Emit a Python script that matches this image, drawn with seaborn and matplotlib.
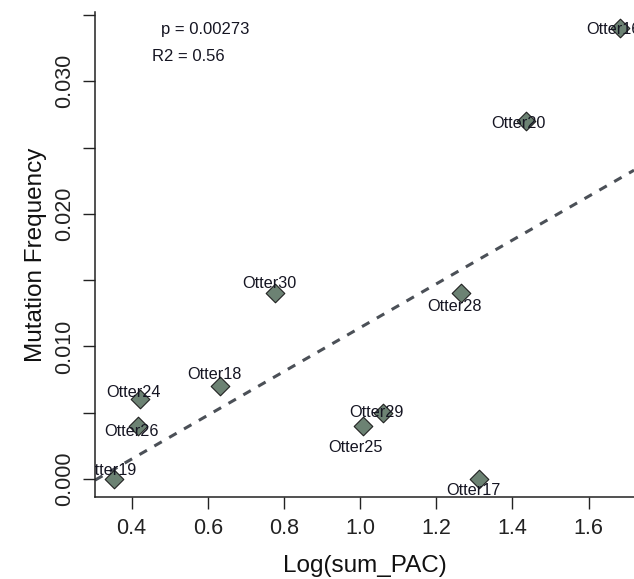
import numpy as np
import pandas as pd
import matplotlib
matplotlib.use("Agg")
import matplotlib.pyplot as plt
import matplotlib.ticker as mticker
import seaborn as sns

# ── Data ──
names    = ["Otter19", "Otter24", "Otter26", "Otter18", "Otter30", "Otter25",
            "Otter29", "Otter28", "Otter17", "Otter20", "Otter16"]
log_pac  = [0.355, 0.422, 0.416, 0.632, 0.777, 1.007,
            1.059, 1.264, 1.313, 1.435, 1.682]
mut_freq = [0.000, 0.006, 0.004, 0.007, 0.014, 0.004,
            0.005, 0.014, 0.000, 0.027, 0.034]
p_text  = "p = 0.00273"
r2_text = "R2 = 0.56"

x_ticks = [0.4, 0.6, 0.8, 1.0, 1.2, 1.4, 1.6]
y_ticks = [0.000, 0.005, 0.010, 0.015, 0.020, 0.025, 0.030, 0.035]

# label offsets from the point, in pixels (dx right, dy down)
label_offset = {
    "Otter19": (-5, -8),  "Otter24": (-6, -7),  "Otter26": (-6, 6),
    "Otter18": (-6, -12), "Otter30": (-6, -10), "Otter25": (-7, 22),
    "Otter29": (-6, 0),   "Otter28": (-6, 13),  "Otter17": (-6, 12),
    "Otter20": (-7, 2),   "Otter16": (-6, 1),
}

df = pd.DataFrame({"name": names, "log_pac": log_pac, "mut_freq": mut_freq})

# ── Style ──
sns.set_style("ticks")
plt.rcParams["font.family"] = ["Liberation Sans", "DejaVu Sans"]

POINT = "#6c8273"
LINE  = "#4b5057"
TEXT  = "#151522"

fig = plt.figure(figsize=(6.34, 5.79), dpi=100)
ax = fig.add_axes([95 / 634, 82 / 579, 539 / 634, 485 / 579])

XLIM = (0.304, 1.719)
YLIM = (-0.00136, 0.03523)
ax.set_xlim(*XLIM)
ax.set_ylim(*YLIM)

# regression line across the full plot width
sns.regplot(data=df, x="log_pac", y="mut_freq", ax=ax,
            scatter=False, ci=None, truncate=False,
            line_kws={"color": LINE, "lw": 2.2, "ls": (0, (2.8, 2.8)),
                      "zorder": 2})

sns.scatterplot(data=df, x="log_pac", y="mut_freq", ax=ax,
                marker="D", s=90, color=POINT, edgecolor="#202020",
                linewidth=0.8, zorder=3, legend=False)

for nm, xv, yv in zip(names, log_pac, mut_freq):
    dx, dy = label_offset[nm]
    ax.annotate(nm, xy=(xv, yv), xytext=(dx * 0.72, -dy * 0.72),
                textcoords="offset points", ha="center", va="center",
                fontsize=11.7, color=TEXT, zorder=4, clip_on=True,
                annotation_clip=False)

ax.text(0.204, 0.963, p_text, transform=ax.transAxes, ha="center",
        va="center", fontsize=12, color=TEXT)
ax.text(0.174, 0.908, r2_text, transform=ax.transAxes, ha="center",
        va="center", fontsize=12, color=TEXT)

ax.set_xlim(*XLIM)
ax.set_ylim(*YLIM)

ax.set_xticks(x_ticks)
ax.xaxis.set_major_formatter(mticker.FormatStrFormatter("%.1f"))
ax.set_yticks(y_ticks)
ax.yaxis.set_major_formatter(mticker.FuncFormatter(
    lambda v, _: f"{v:.3f}" if round(v * 1000) % 10 == 0 else ""))
ax.tick_params(axis="both", length=8.3, width=1.0, color="#222222",
               labelsize=15.5, labelcolor="#222222", direction="out")
ax.tick_params(axis="x", pad=7)
ax.tick_params(axis="y", pad=6)
for lab in ax.get_yticklabels():
    lab.set_rotation(90)
    lab.set_va("center")

for side in ["top", "right"]:
    ax.spines[side].set_visible(False)
for side in ["left", "bottom"]:
    ax.spines[side].set_color("#222222")
    ax.spines[side].set_linewidth(1.1)

ax.set_xlabel("Log(sum_PAC)", fontsize=17.5, color="#111111", labelpad=11)
ax.set_ylabel("Mutation Frequency", fontsize=17.5, color="#111111",
              labelpad=5)
ax.grid(False)

fig.savefig("out.png", dpi=100, facecolor="white")
